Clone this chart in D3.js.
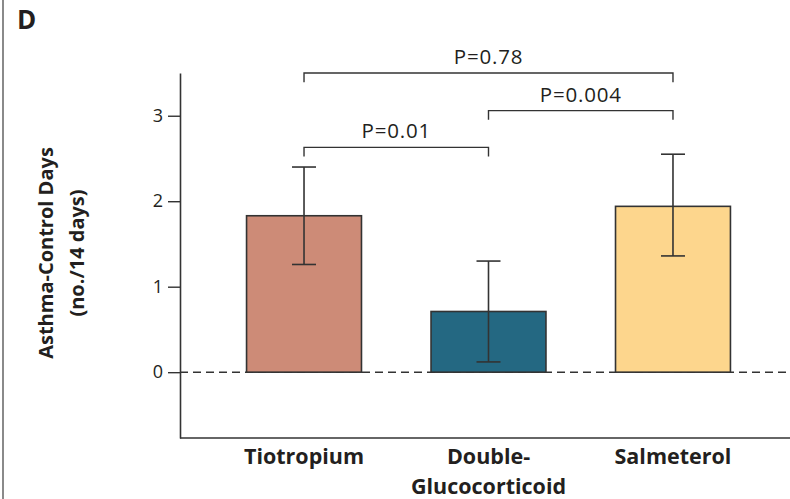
<!DOCTYPE html>
<html>
<head>
<meta charset="utf-8">
<script src="https://cdn.jsdelivr.net/npm/d3@7"></script>
<style>
  body { margin: 0; background: #fff; }
  text { font-family: "Open Sans", "DejaVu Sans", sans-serif; fill: #231f20; }
</style>
</head>
<body>
<div id="chart"></div>
<script>
// data
const categories = ['Tiotropium', 'Double-Glucocorticoid', 'Salmeterol'];
const categoryLines = [['Tiotropium'], ['Double-', 'Glucocorticoid'], ['Salmeterol']];
const means = [1.83, 0.71, 1.94];
const lower = [1.26, 0.12, 1.36];
const upper = [2.40, 1.30, 2.55];
const barColors = ['#cd8b77', '#246882', '#fdd68d'];
const yTicks = [0, 1, 2, 3];

// comparisons: [from index, to index, level on y axis, label]
const compFrom = [0, 1, 0];
const compTo = [2, 2, 1];
const compLevel = [3.5, 3.06, 2.63];
const compLabel = ['P=0.78', 'P=0.004', 'P=0.01'];

const width = 790, height = 499;
const svg = d3.select('#chart').append('svg')
  .attr('width', width)
  .attr('height', height);

// panel border + letter
svg.append('line')
  .attr('x1', 3).attr('x2', 3).attr('y1', 0).attr('y2', height)
  .attr('stroke', '#8a8a8a').attr('stroke-width', 2);
svg.append('text')
  .attr('x', 17).attr('y', 29)
  .attr('font-size', 26).attr('font-weight', 700)
  .text('D');

const x = d3.scaleBand()
  .domain(categories)
  .range([177, 800])
  .padding(0.377);

const y = d3.scaleLinear()
  .domain([-0.77, 3.5])
  .range([438, 73]);

const axisX = 180;

// y axis
const yAxis = svg.append('g')
  .attr('transform', `translate(${axisX},0)`)
  .call(d3.axisLeft(y).tickValues(yTicks).tickFormat(d3.format('d'))
    .tickSize(12).tickPadding(5).tickSizeOuter(0));
yAxis.select('.domain').attr('stroke', '#333').attr('stroke-width', 1.6);
yAxis.selectAll('.tick line').attr('stroke', '#333').attr('stroke-width', 1.4);
yAxis.selectAll('.tick text')
  .attr('font-size', 18)
  .attr('font-family', '"Open Sans", sans-serif')
  .attr('fill', '#231f20');

// bottom frame line
svg.append('line')
  .attr('x1', axisX).attr('x2', width)
  .attr('y1', y(-0.77)).attr('y2', y(-0.77))
  .attr('stroke', '#333').attr('stroke-width', 1.6);

// zero dashed line
svg.append('line')
  .attr('x1', axisX).attr('x2', width)
  .attr('y1', y(0)).attr('y2', y(0))
  .attr('stroke', '#333').attr('stroke-width', 1.4)
  .attr('stroke-dasharray', '8,5');

// y label
const yl = svg.append('text')
  .attr('transform', `translate(53,253) rotate(-90)`)
  .attr('text-anchor', 'middle')
  .attr('font-size', 20).attr('font-weight', 700);
yl.append('tspan').attr('x', 0).attr('dy', 0).text('Asthma-Control Days');
yl.append('tspan').attr('x', 0).attr('dy', 31).text('(no./14 days)');

// bars
svg.selectAll('rect.bar')
  .data(categories)
  .enter()
  .append('rect')
  .attr('class', 'bar')
  .attr('x', d => x(d))
  .attr('width', x.bandwidth())
  .attr('y', (d, i) => y(means[i]))
  .attr('height', (d, i) => y(0) - y(means[i]))
  .attr('fill', (d, i) => barColors[i])
  .attr('stroke', '#333')
  .attr('stroke-width', 1.6);

// error bars
const cx = d => x(d) + x.bandwidth() / 2;
const cap = 12;
const err = svg.append('g').attr('stroke', '#333').attr('stroke-width', 1.6);
categories.forEach((d, i) => {
  err.append('line')
    .attr('x1', cx(d)).attr('x2', cx(d))
    .attr('y1', y(lower[i])).attr('y2', y(upper[i]));
  [lower[i], upper[i]].forEach(v => {
    err.append('line')
      .attr('x1', cx(d) - cap).attr('x2', cx(d) + cap)
      .attr('y1', y(v)).attr('y2', y(v));
  });
});

// category labels
categories.forEach((d, i) => {
  const t = svg.append('text')
    .attr('x', cx(d)).attr('y', 464)
    .attr('text-anchor', 'middle')
    .attr('font-size', 21.5).attr('font-weight', 700);
  categoryLines[i].forEach((ln, j) => {
    t.append('tspan').attr('x', cx(d)).attr('dy', j === 0 ? 0 : 30).text(ln);
  });
});

// comparison brackets
const drop = 0.108;
compLabel.forEach((lab, k) => {
  const x1 = cx(categories[compFrom[k]]);
  const x2 = cx(categories[compTo[k]]);
  const yy = y(compLevel[k]);
  const yd = y(compLevel[k] - drop);
  svg.append('path')
    .attr('d', `M${x1},${yd}V${yy}H${x2}V${yd}`)
    .attr('fill', 'none')
    .attr('stroke', '#333')
    .attr('stroke-width', 1.4);
  svg.append('text')
    .attr('x', (x1 + x2) / 2).attr('y', yy - 9)
    .attr('text-anchor', 'middle')
    .attr('font-size', 20.5)
    .attr('letter-spacing', 0.8)
    .text(lab);
});
</script>
</body>
</html>
